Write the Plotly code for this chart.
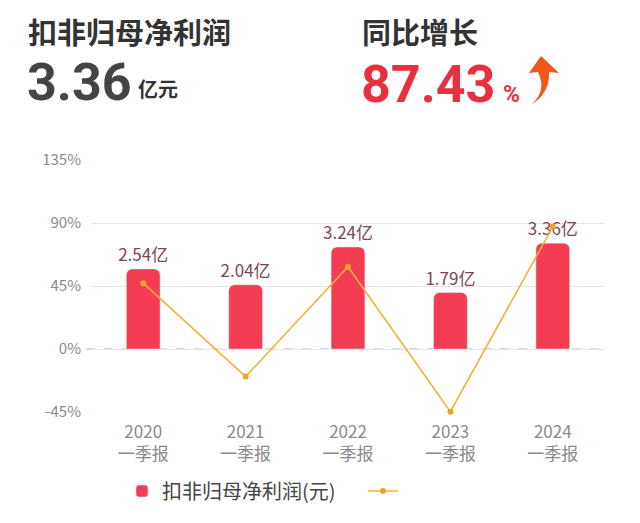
import plotly.graph_objects as go

categories = ["2020<br>一季报", "2021<br>一季报", "2022<br>一季报", "2023<br>一季报", "2024<br>一季报"]
profit_yi = [2.54, 2.04, 3.24, 1.79, 3.36]
profit_labels = ["2.54亿", "2.04亿", "3.24亿", "1.79亿", "3.36亿"]
growth_pct = [47.0, -19.7, 58.8, -44.8, 87.43]
pct_tickvals = [-2, 0, 2, 4, 6]
pct_ticktext = ["-45%", "0%", "45%", "90%", "135%"]

FONT = "Noto Sans CJK SC"
NUMFONT = "Roboto"
OFF = 8  # page body margin
W, H = 640 - OFF, 523 - OFF
L, R, T, B = 92, 604, 160, 412  # plot area in page pixels


def px(x):
    return (x - L) / (R - L)


def py(y):
    return (B - y) / (B - T)


fig = go.Figure()
fig.add_trace(go.Bar(
    x=categories, y=profit_yi, name="扣非归母净利润(元)",
    marker=dict(color="#f43c52", cornerradius=6),
    width=0.33,
    text=profit_labels, textposition="outside", constraintext="none",
    textfont=dict(family=FONT, size=17, color="#7e4456"),
    cliponaxis=False, yaxis="y",
))
fig.add_trace(go.Scatter(
    x=categories, y=growth_pct, name="", mode="lines+markers",
    line=dict(color="#edb33c", width=1.6),
    marker=dict(color="#e8a52a", size=6),
    cliponaxis=False, yaxis="y2",
))

shapes = [
    dict(type="line", xref="paper", yref="y", x0=-0.012, x1=1, y0=0, y1=0,
         line=dict(color="white", width=3), layer="between"),
    dict(type="line", xref="paper", yref="y", x0=-0.012, x1=1, y0=0, y1=0,
         line=dict(color="#b8b8b8", width=1.2, dash="dash"), layer="between"),
]


def P(x, y):
    return f"{px(x):.4f},{py(y):.4f}"


arrow = (f"M {P(532,104)} Q {P(547,90)} {P(538,72)} L {P(529,73)} L {P(541,56)} "
         f"L {P(559,73)} L {P(549,72)} Q {P(550,93)} {P(532,104)} Z")
shapes.append(dict(type="path", xref="paper", yref="paper", path=arrow,
                   fillcolor="#f2561d", line=dict(width=0)))

annotations = [
    dict(text="扣非归母净利润", x=px(26), y=py(31), font=dict(family=FONT, size=29, color="#333333", weight=700)),
    dict(text="<b>3.36</b>", x=px(25), y=py(82), font=dict(family=NUMFONT, size=52, color="#444444")),
    dict(text="亿元", x=px(136), y=py(89), font=dict(family=FONT, size=20, color="#333333", weight=700)),
    dict(text="同比增长", x=px(360), y=py(31), font=dict(family=FONT, size=29, color="#333333", weight=700)),
    dict(text="<b>87.43</b>", x=px(359), y=py(85), font=dict(family=NUMFONT, size=52, color="#e8303f")),
    dict(text="<b>%</b>", x=px(501), y=py(94), font=dict(family=NUMFONT, size=23, color="#e8303f")),
]
for a in annotations:
    a.update(xref="paper", yref="paper", xanchor="left", yanchor="middle", showarrow=False)

fig.update_layout(
    width=W, height=H,
    margin=dict(l=L - OFF, r=640 - R, t=T - OFF, b=523 - B),
    paper_bgcolor="white", plot_bgcolor="white",
    font=dict(family=FONT),
    showlegend=True,
    legend=dict(orientation="h", x=px(122), y=py(491), xanchor="left", yanchor="middle",
                entrywidth=196,
                font=dict(family=FONT, size=20, color="#444444"), bgcolor="rgba(0,0,0,0)"),
    xaxis=dict(showgrid=False, showline=False, zeroline=False, ticks="",
               tickfont=dict(family=FONT, size=17, color="#8a8a8a"), ticklabelstandoff=8),
    yaxis=dict(range=[-2, 6], tickvals=pct_tickvals, ticktext=pct_ticktext,
               showgrid=True, gridcolor="#e4e4e4", gridwidth=1, zeroline=False, showline=False,
               tickfont=dict(family=FONT, size=15, color="#8a8a8a"), ticklabelstandoff=10),
    yaxis2=dict(range=[-45, 135], overlaying="y", visible=False, showgrid=False, zeroline=False),
    shapes=shapes,
    annotations=annotations,
)

fig.write_html("out.html")
